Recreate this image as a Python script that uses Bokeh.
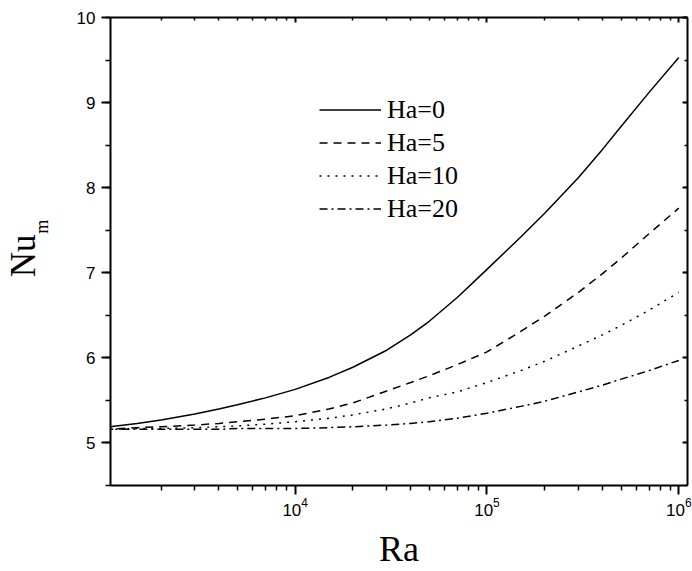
from bokeh.plotting import figure
from bokeh.models import (Range1d, LogAxis, LinearAxis, FixedTicker, SingleIntervalTicker,
                          LogTickFormatter, Legend, LegendItem)
from bokeh.embed import file_html
from bokeh.resources import INLINE

# Data
ra = [1e3, 1.5e3, 2e3, 3e3, 4e3, 5e3, 7e3, 1e4, 1.5e4, 2e4, 3e4, 4e4, 5e4, 7e4,
      1e5, 1.5e5, 2e5, 3e5, 4e5, 5e5, 7e5, 1e6]
nu_ha0 = [5.18, 5.23, 5.27, 5.34, 5.40, 5.45, 5.53, 5.63, 5.77, 5.89, 6.09, 6.27, 6.43, 6.71,
          7.04, 7.42, 7.70, 8.12, 8.45, 8.72, 9.12, 9.53]
nu_ha5 = [5.16, 5.18, 5.19, 5.21, 5.23, 5.25, 5.28, 5.32, 5.40, 5.47, 5.61, 5.71, 5.79, 5.92,
          6.07, 6.31, 6.49, 6.77, 6.99, 7.17, 7.46, 7.76]
nu_ha10 = [5.16, 5.17, 5.17, 5.18, 5.19, 5.20, 5.22, 5.25, 5.29, 5.33, 5.40, 5.47, 5.53, 5.60,
           5.71, 5.85, 5.96, 6.14, 6.27, 6.38, 6.56, 6.77]
nu_ha20 = [5.16, 5.16, 5.16, 5.16, 5.16, 5.17, 5.17, 5.17, 5.18, 5.19, 5.21, 5.23, 5.25, 5.29,
           5.35, 5.43, 5.49, 5.60, 5.68, 5.75, 5.85, 5.97]
labels = ["Ha=0", "Ha=5", "Ha=10", "Ha=20"]
x_major = [1e4, 1e5, 1e6]
y_major_interval = 1
x_title = "Ra"
y_title_main = "Nu"
y_title_sub = "m"

NBSP = "\u00a0"

W, H = 692, 571
p = figure(width=W, height=H, x_axis_type="log", output_backend="svg", toolbar_location=None,
           x_range=Range1d(1090, 1.11e6), y_range=Range1d(4.5, 10),
           min_border_left=109, min_border_right=5, min_border_top=17, min_border_bottom=85)
p.outline_line_color = None
p.xgrid.visible = False
p.ygrid.visible = False
p.background_fill_color = "white"
p.border_fill_color = "white"

minor_x = [m * 10 ** e for e in range(3, 6) for m in range(2, 10)]
xt = FixedTicker(ticks=x_major, minor_ticks=minor_x)
yt = SingleIntervalTicker(interval=y_major_interval, num_minor_ticks=2)

def style(ax, inside=False, show_labels=True):
    ax.axis_line_width = 2
    ax.axis_line_color = "black"
    ax.major_tick_line_width = 2
    ax.minor_tick_line_width = 1.5
    if inside:
        ax.major_tick_in = 5
        ax.major_tick_out = 0
        ax.minor_tick_in = 3
        ax.minor_tick_out = 0
    else:
        ax.major_tick_in = 0
        ax.major_tick_out = 9
        ax.minor_tick_in = 0
        ax.minor_tick_out = 5
    if show_labels:
        ax.major_label_text_font = "Liberation Sans"
        ax.major_label_text_font_size = "17px"
        ax.major_label_text_color = "black"
    else:
        ax.major_label_text_font_size = "2px"
        ax.major_label_text_alpha = 0
        ax.major_label_standoff = 0

xa = p.xaxis[0]
xa.ticker = xt
xa.formatter = LogTickFormatter()
style(xa)
xa.major_label_standoff = 3
xa.axis_label = x_title
xa.axis_label_text_font = "Liberation Serif"
xa.axis_label_text_font_size = "36px"
xa.axis_label_text_font_style = "normal"
xa.axis_label_text_color = "black"
xa.axis_label_standoff = 10

ya = p.yaxis[0]
ya.ticker = yt
style(ya)
ya.major_label_standoff = 6
ya.axis_label = NBSP * 11 + y_title_sub
ya.axis_label_text_font = "Liberation Serif"
ya.axis_label_text_font_size = "18px"
ya.axis_label_text_font_style = "normal"
ya.axis_label_text_color = "black"
ya.axis_label_standoff = 22

ya2 = LinearAxis(ticker=FixedTicker(ticks=[]), axis_line_color=None,
                 major_tick_out=0, minor_tick_out=0, major_tick_in=0, minor_tick_in=0,
                 major_label_standoff=0, major_label_text_font_size="2px",
                 axis_label=y_title_main + NBSP, axis_label_text_font="Liberation Serif",
                 axis_label_text_font_size="35px", axis_label_text_font_style="normal",
                 axis_label_text_color="black", axis_label_standoff=-14)
p.add_layout(ya2, "left")

top = LogAxis(ticker=xt)
style(top, inside=True, show_labels=False)
p.add_layout(top, "above")
right = LinearAxis(ticker=yt)
style(right, inside=True, show_labels=False)
p.add_layout(right, "right")

series = [nu_ha0, nu_ha5, nu_ha10, nu_ha20]
dashes = ["solid", "8 6", "2 6", "8 4 2 4"]
items = []
for lab, ys, d in zip(labels, series, dashes):
    r = p.line(ra, ys, line_color="black", line_width=1.5, line_dash=d)
    items.append(LegendItem(label=lab, renderers=[r]))

legend = Legend(items=items, location=(209, 260), border_line_color=None,
                background_fill_alpha=0, padding=0, margin=0, spacing=0,
                glyph_width=62, glyph_height=33, label_height=33, label_standoff=6,
                label_text_font="Liberation Serif", label_text_font_size="26px",
                label_text_color="black")
p.add_layout(legend, "center")

open("out.html", "w").write(file_html(p, INLINE))
